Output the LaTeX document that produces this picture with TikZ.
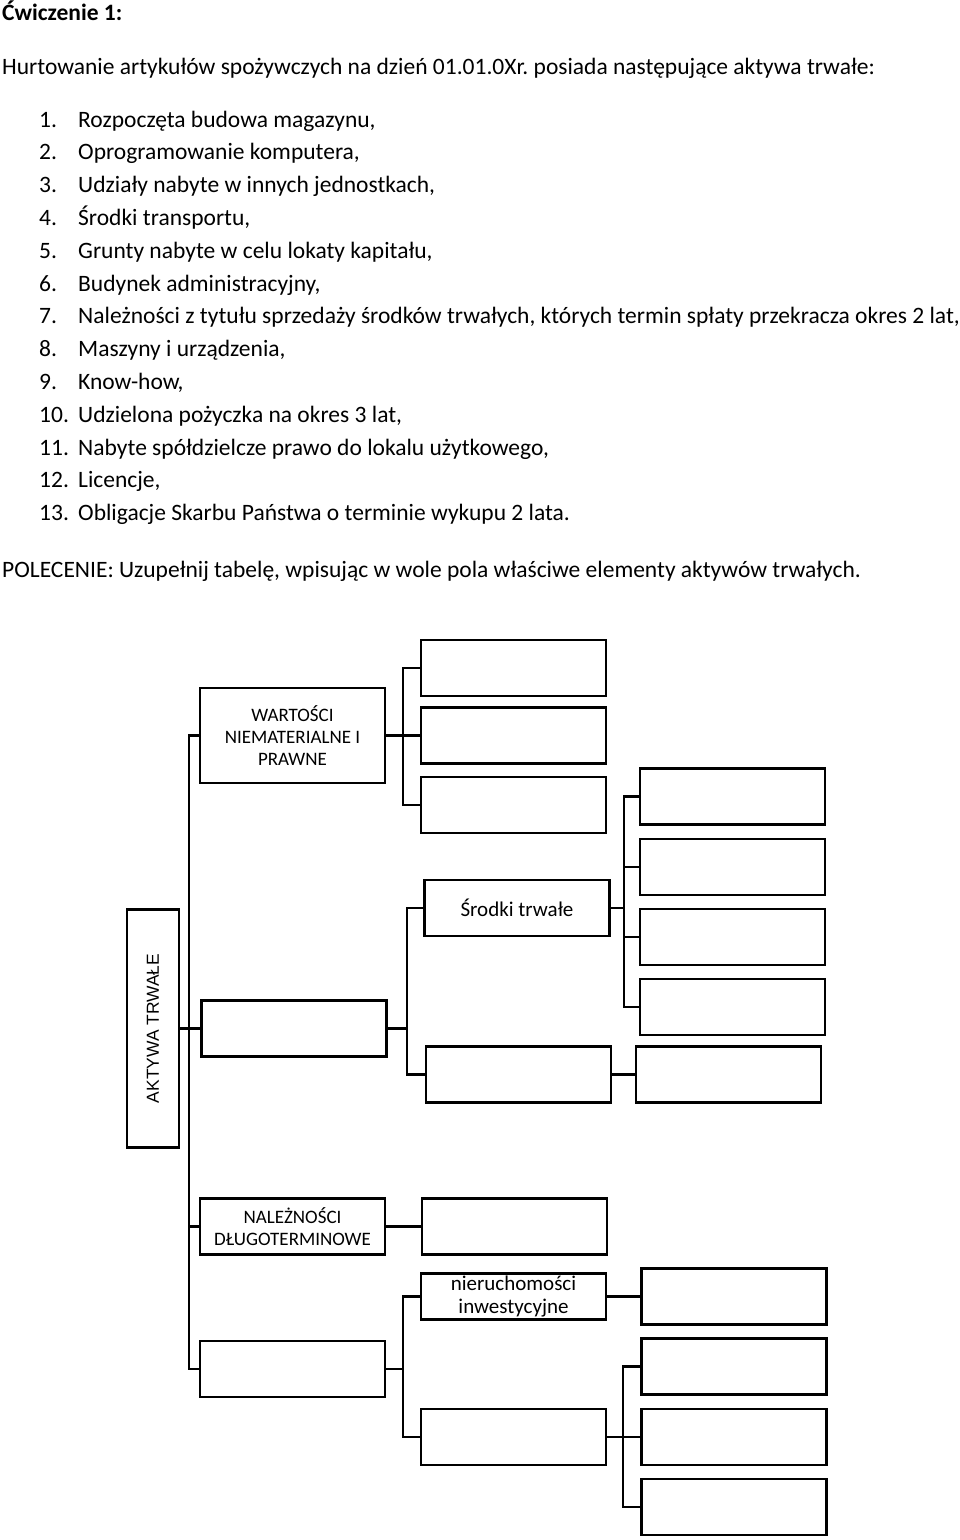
\documentclass[tikz,border=0pt]{standalone}
\usepackage{fontspec}
\setmainfont{Carlito}
\newfontfamily\arialfont{Liberation Sans}
\frenchspacing
\begin{document}
\begin{tikzpicture}[x=1pt, y=-1pt,
        body/.style={anchor=base west, inner sep=0pt, font=\fontsize{23.5}{28}\selectfont},
        box/.style={draw, line width=2.4pt, inner sep=0pt, align=center, minimum width=185pt, minimum height=56pt},
        capsbox/.style={box, font=\fontsize{19}{21.7}\selectfont},
        namebox/.style={box, font=\fontsize{21}{23.3}\selectfont},
        link/.style={line width=2.4pt}
    ]
    \useasboundingbox (0,0) rectangle (960,1540);

    % exercise text
    \node[body, font=\fontsize{23.5}{28}\selectfont\bfseries] (title) at (2,20) {Ćwiczenie 1:};
    \node[body] (intro) at (2,74) {Hurtowanie artykułów spożywczych na dzień 01.01.0Xr. posiada następujące aktywa trwałe:};
    \foreach \txt [count=\n] in {
        {Rozpoczęta budowa magazynu,},
        {Oprogramowanie komputera,},
        {Udziały nabyte w innych jednostkach,},
        {Środki transportu,},
        {Grunty nabyte w celu lokaty kapitału,},
        {Budynek administracyjny,},
        {Należności z tytułu sprzedaży środków trwałych, których termin spłaty przekracza okres 2 lat,},
        {Maszyny i urządzenia,},
        {Know-how,},
        {Udzielona pożyczka na okres 3 lat,},
        {Nabyte spółdzielcze prawo do lokalu użytkowego,},
        {Licencje,},
        {Obligacje Skarbu Państwa o terminie wykupu 2 lata.}} {
        \node[body] (num\n) at (39,{127+32.8*(\n-1)}) {\n.};
        \node[body] (item\n) at (78,{127+32.8*(\n-1)}) {\txt};
    }
    \node[body] (task) at (2,577) {POLECENIE: Uzupełnij tabelę, wpisując w wole pola właściwe elementy aktywów trwałych.};

    % tree
    \node[box, rotate=90, minimum width=238pt, minimum height=52pt, font=\arialfont\fontsize{17.4}{20}\selectfont] (akt) at (153,1028.5) {AKTYWA TRWAŁE};

    \node[capsbox, minimum height=95pt] (wnip) at (292.5,735.5) {WARTOŚCI\\NIEMATERIALNE I\\PRAWNE};
    \node[box] (wnip1) at (513.5,668) {};
    \node[box] (wnip2) at (513.5,735.5) {};
    \node[box] (wnip3) at (513.5,805) {};

    \node[box] (rat) at (294,1028.5) {};
    \node[namebox] (st) at (517,908) {Środki trwałe};
    \node[box] (st1) at (732.5,796.5) {};
    \node[box] (st2) at (732.5,867) {};
    \node[box] (st3) at (732.5,937) {};
    \node[box] (st4) at (732.5,1007) {};
    \node[box] (sb) at (518.5,1074.5) {};
    \node[box] (sb1) at (728.5,1074.5) {};

    \node[capsbox] (ndl) at (292.5,1226.5) {NALEŻNOŚCI\\DŁUGOTERMINOWE};
    \node[box] (ndl1) at (514.5,1226.5) {};

    \node[box] (idl) at (292.5,1369) {};
    \node[namebox, minimum height=46pt] (nier) at (513.5,1296.5) {nieruchomości\\inwestycyjne};
    \node[box] (nier1) at (734,1296.5) {};
    \node[box] (ifin) at (513.5,1437) {};
    \node[box] (ifin1) at (734,1366.5) {};
    \node[box] (ifin2) at (734,1437) {};
    \node[box] (ifin3) at (734,1507) {};

    % connectors
    \coordinate (trunk) at (189,1028.5);
    \coordinate (bw) at (403,735.5);
    \coordinate (br) at (407,1028.5);
    \coordinate (bs) at (624,908);
    \coordinate (bi) at (403,1369);
    \coordinate (bf) at (623,1437);

    \draw[link] (wnip.west) -| (trunk) |- (idl.west);
    \draw[link] (ndl.west) -- (ndl.west -| trunk);
    \draw[link] (akt.south) -- (rat.west);

    \draw[link] (wnip.east) -- (bw);
    \draw[link] (wnip1.west) -| (bw) |- (wnip3.west);
    \draw[link] (bw) -- (wnip2.west);

    \draw[link] (rat.east) -- (br);
    \draw[link] (st.west) -| (br) |- (sb.west);
    \draw[link] (st.east) -- (bs);
    \draw[link] (st1.west) -| (bs) |- (st4.west);
    \draw[link] (st2.west) -- (st2.west -| bs);
    \draw[link] (st3.west) -- (st3.west -| bs);
    \draw[link] (sb.east) -- (sb1.west);

    \draw[link] (ndl.east) -- (ndl1.west);

    \draw[link] (idl.east) -- (bi);
    \draw[link] (nier.west) -| (bi) |- (ifin.west);
    \draw[link] (nier.east) -- (nier1.west);
    \draw[link] (ifin.east) -- (bf);
    \draw[link] (ifin1.west) -| (bf) |- (ifin3.west);
    \draw[link] (bf) -- (ifin2.west);
\end{tikzpicture}
\end{document}
